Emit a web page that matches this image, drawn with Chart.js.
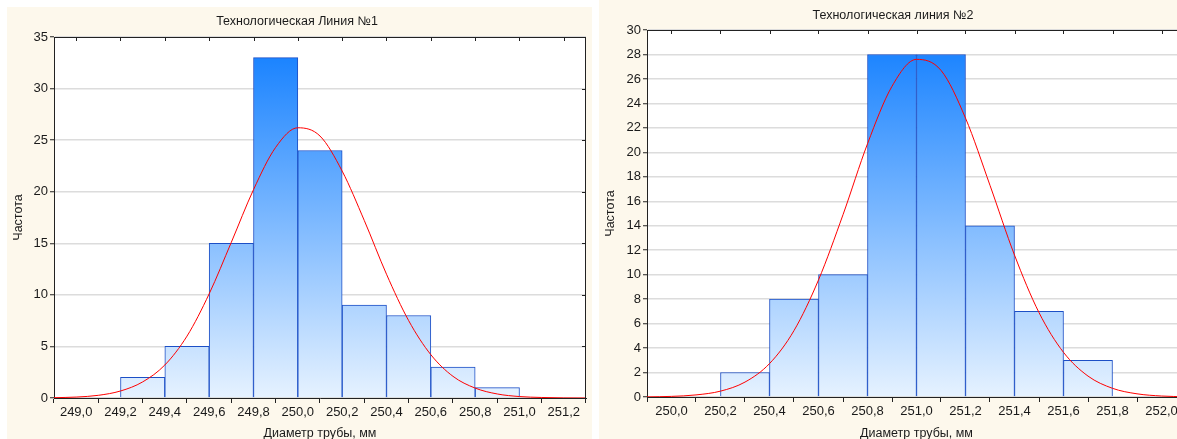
<!DOCTYPE html>
<html>
<head>
<meta charset="utf-8">
<script src="https://cdn.jsdelivr.net/npm/chart.js@4"></script>
<style>
body{margin:0;width:1177px;height:439px;overflow:hidden;position:relative;background:#fff;font-family:"Liberation Sans",Arial,sans-serif}
.panel{position:absolute;background:#fdf8ec}
.ttl{position:absolute;width:300px;text-align:center;font-size:12.5px;line-height:14px;color:#1a1a1a}
canvas{position:absolute;left:0;top:0}
</style>
</head>
<body>
<div class="panel" style="left:7px;top:7px;width:585px;height:436px">
  <canvas id="chart1" width="585" height="436"></canvas>
  <div class="ttl" style="left:140px;top:7px">Технологическая Линия №1</div>
</div>
<div class="panel" style="left:599px;top:0;width:600px;height:445px">
  <canvas id="chart2" width="600" height="445"></canvas>
  <div class="ttl" style="left:144px;top:8px">Технологическая линия №2</div>
</div>
<script>
// линия 1
const bins1 = [249.3,249.5,249.7,249.9,250.1,250.3,250.5,250.7,250.9];
const counts1 = [2,5,15,33,24,9,8,3,1];
const curveX1 = [248.9,249.0,249.1,249.2,249.3,249.4,249.5,249.6,249.7,249.8,249.9,250.0,250.1,250.2,250.3,250.4,250.5,250.6,250.7,250.8,250.9,251.0,251.1,251.2,251.3];
const curveY1 = [0.03,0.09,0.26,0.68,1.56,3.2,6.0,10.1,15.1,20.2,24.3,26.2,25.4,22.0,17.2,12.0,7.5,4.2,2.1,0.96,0.39,0.14,0.05,0.01,0.0];
const xTicks1 = [249.0,249.2,249.4,249.6,249.8,250.0,250.2,250.4,250.6,250.8,251.0,251.2];

// линия 2
const bins2 = [250.3,250.5,250.7,250.9,251.1,251.3,251.5,251.7];
const counts2 = [2,8,10,28,28,14,7,3];
const curveX2 = [249.9,250.0,250.1,250.2,250.3,250.4,250.5,250.6,250.7,250.8,250.9,251.0,251.1,251.2,251.3,251.4,251.5,251.6,251.7,251.8,251.9,252.0,252.1];
const curveY2 = [0.01,0.05,0.17,0.48,1.22,2.73,5.43,9.57,14.9,20.7,25.4,27.6,26.7,22.8,17.3,11.6,6.9,3.65,1.71,0.71,0.26,0.08,0.02];
const xTicks2 = [250.0,250.2,250.4,250.6,250.8,251.0,251.2,251.4,251.6,251.8,252.0];

const TICK_FONT = {family:'"Liberation Sans", Arial, sans-serif', size:13};
const TITLE_FONT = {family:'"Liberation Sans", Arial, sans-serif', size:12.5};
const INK = '#1a1a1a';

// белая область графика, рамка сверху/справа и внутренние риски
const frame = {
  id: 'frame',
  beforeDraw(chart){
    const a = chart.chartArea, c = chart.ctx;
    c.save();
    c.fillStyle = '#fff';
    c.fillRect(a.left, a.top, a.right - a.left, a.bottom - a.top);
    c.restore();
  },
  afterDraw(chart){
    const a = chart.chartArea, c = chart.ctx;
    const sx = chart.scales.x, sy = chart.scales.y;
    c.save();
    c.strokeStyle = '#222';
    c.lineWidth = 1;
    c.beginPath();
    c.moveTo(a.left, Math.round(a.top) + 0.5);
    c.lineTo(a.right, Math.round(a.top) + 0.5);
    c.moveTo(Math.round(a.right) - 0.5, a.top);
    c.lineTo(Math.round(a.right) - 0.5, a.bottom);
    sx.ticks.forEach(t => {
      const p = Math.round(sx.getPixelForValue(t.value)) + 0.5;
      c.moveTo(p, a.top); c.lineTo(p, a.top + 4);
    });
    sy.ticks.forEach(t => {
      const p = Math.round(sy.getPixelForValue(t.value)) + 0.5;
      c.moveTo(a.right, p); c.lineTo(a.right - 4, p);
    });
    c.stroke();
    c.restore();
  }
};

function makeHist(canvasId, bins, counts, cx, cy, xTicks, xMin, xMax, yMax, yStep, box){
  const ctx = document.getElementById(canvasId);
  return new Chart(ctx, {
    type: 'bar',
    data: {
      datasets: [{
        type: 'line',
        order: 0,
        data: cx.map((x, i) => ({x: x, y: cy[i]})),
        borderColor: '#ff0000',
        borderWidth: 1,
        pointRadius: 0,
        cubicInterpolationMode: 'monotone',
        fill: false
      }, {
        type: 'bar',
        order: 1,
        data: bins.map((x, i) => ({x: x, y: counts[i]})),
        barPercentage: 1,
        categoryPercentage: 1,
        borderColor: '#1c4fc6',
        borderWidth: 1,
        backgroundColor: c => {
          const a = c.chart.chartArea;
          if (!a) return '#7ab8fd';
          const g = c.chart.ctx.createLinearGradient(0, a.top, 0, a.bottom);
          g.addColorStop(0, '#0f7dff');
          g.addColorStop(1, '#e6f2ff');
          return g;
        }
      }]
    },
    options: {
      responsive: false,
      animation: false,
      layout: {padding: {top: 30, right: box.right, left: 0, bottom: 0}},
      plugins: {legend: {display: false}, tooltip: {enabled: false}},
      scales: {
        x: {
          type: 'linear',
          min: xMin,
          max: xMax,
          offset: false,
          afterFit: s => { s.height = box.xh; },
          afterBuildTicks: s => { s.ticks = xTicks.map(v => ({value: v})); },
          grid: {drawOnChartArea: false, drawTicks: true, tickLength: 5, tickColor: '#222', tickWidth: 1},
          border: {color: '#222', width: 1},
          ticks: {
            font: TICK_FONT, color: INK, padding: 2, autoSkip: false, maxRotation: 0,
            callback: v => v.toFixed(1).replace('.', ',')
          },
          title: {display: true, text: 'Диаметр трубы, мм', font: TITLE_FONT, color: INK, padding: {top: 0, bottom: box.tb}}
        },
        y: {
          min: 0,
          max: yMax,
          afterFit: s => { s.width = box.yw; },
          grid: {color: '#dcdcdc', lineWidth: 1.5, tickLength: 4, tickColor: '#222', tickWidth: 1},
          border: {color: '#222', width: 1},
          ticks: {stepSize: yStep, font: TICK_FONT, color: INK, padding: 2},
          title: {display: true, text: 'Частота', font: TITLE_FONT, color: INK, padding: {top: 4, bottom: 0}}
        }
      }
    },
    plugins: [frame]
  });
}

const chart1 = makeHist('chart1', bins1, counts1, curveX1, curveY1, xTicks1, 248.9, 251.3, 35, 5,
  {right: 6, xh: 45, yw: 47, tb: 2});
const chart2 = makeHist('chart2', bins2, counts2, curveX2, curveY2, xTicks2, 249.9, 252.1, 30, 2,
  {right: 13, xh: 48, yw: 48, tb: 4});
</script>
</body>
</html>
